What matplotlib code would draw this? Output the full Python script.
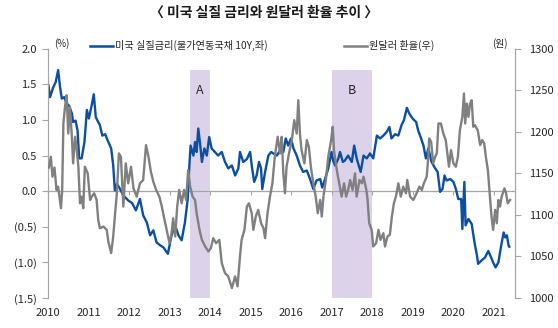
import matplotlib
matplotlib.use("Agg")
import numpy as np
from matplotlib import pyplot as plt
from matplotlib.lines import Line2D
from matplotlib.ticker import FuncFormatter

plt.rcParams["font.family"] = ["Noto Sans CJK KR", "DejaVu Sans"]

# US real rate (TIPS 10Y, %) -- decimal year / value
rate_x = [2010.01, 2010.05, 2010.13, 2010.19, 2010.25, 2010.30, 2010.34, 2010.40, 2010.46, 2010.52,
          2010.59, 2010.62, 2010.68, 2010.73, 2010.77, 2010.83, 2010.90, 2010.96, 2011.01, 2011.08,
          2011.13, 2011.18, 2011.24, 2011.28, 2011.34, 2011.41, 2011.49, 2011.56, 2011.61, 2011.65,
          2011.70, 2011.75, 2011.86, 2011.98, 2012.08, 2012.17, 2012.27, 2012.35, 2012.44, 2012.52,
          2012.60, 2012.68, 2012.77, 2012.85, 2012.96, 2013.05, 2013.14, 2013.22, 2013.30, 2013.38,
          2013.45, 2013.49, 2013.52, 2013.59, 2013.63, 2013.67, 2013.71, 2013.75, 2013.80, 2013.86,
          2013.92, 2013.98, 2014.04, 2014.12, 2014.20, 2014.29, 2014.37, 2014.45, 2014.54, 2014.62,
          2014.70, 2014.74, 2014.82, 2014.91, 2014.99, 2015.03, 2015.09, 2015.15, 2015.21, 2015.26,
          2015.29, 2015.36, 2015.44, 2015.51, 2015.56, 2015.65, 2015.73, 2015.81, 2015.87, 2015.93,
          2016.00, 2016.06, 2016.14, 2016.22, 2016.30, 2016.39, 2016.47, 2016.55, 2016.63, 2016.72,
          2016.77, 2016.84, 2016.92, 2017.00, 2017.04, 2017.09, 2017.17, 2017.21, 2017.28, 2017.33,
          2017.41, 2017.50, 2017.56, 2017.62, 2017.72, 2017.79, 2017.87, 2017.95, 2018.03, 2018.12,
          2018.20, 2018.28, 2018.36, 2018.43, 2018.48, 2018.57, 2018.65, 2018.73, 2018.79, 2018.86,
          2018.92, 2019.00, 2019.09, 2019.14, 2019.20, 2019.27, 2019.33, 2019.39, 2019.47, 2019.56,
          2019.62, 2019.68, 2019.74, 2019.79, 2019.84, 2019.93, 2020.01, 2020.07, 2020.13, 2020.20,
          2020.23, 2020.28, 2020.31, 2020.38, 2020.46, 2020.53, 2020.59, 2020.62, 2020.71, 2020.79,
          2020.87, 2020.94, 2020.99, 2021.05, 2021.12, 2021.19, 2021.25, 2021.29, 2021.33, 2021.37,
          2021.39]
rate_y = [1.49, 1.32, 1.46, 1.53, 1.70, 1.45, 1.30, 1.32, 1.23, 1.20,
          1.09, 0.97, 0.99, 0.85, 0.46, 0.46, 0.69, 1.14, 1.02, 1.21,
          1.36, 1.04, 0.97, 0.93, 0.78, 0.80, 0.69, 0.60, 0.36, 0.01,
          0.10, 0.06, -0.06, -0.13, -0.17, -0.27, -0.11, -0.34, -0.44, -0.62,
          -0.55, -0.72, -0.76, -0.79, -0.88, -0.62, -0.48, -0.62, -0.69, -0.44,
          -0.11, 0.36, 0.64, 0.50, 0.69, 0.55, 0.88, 0.69, 0.41, 0.60,
          0.50, 0.76, 0.60, 0.55, 0.50, 0.55, 0.41, 0.32, 0.36, 0.22,
          0.32, 0.55, 0.41, 0.45, 0.55, 0.36, 0.13, 0.22, 0.41, 0.32,
          0.03, 0.27, 0.50, 0.55, 0.53, 0.50, 0.57, 0.55, 0.74, 0.64,
          0.74, 0.60, 0.50, 0.36, 0.27, 0.29, 0.17, 0.03, 0.15, 0.17,
          0.05, 0.17, 0.32, 0.55, 0.43, 0.36, 0.46, 0.55, 0.41, 0.43,
          0.50, 0.41, 0.64, 0.46, 0.27, 0.50, 0.46, 0.53, 0.46, 0.78,
          0.74, 0.78, 0.83, 0.90, 0.74, 0.80, 0.78, 0.93, 1.00, 1.17,
          1.09, 1.02, 0.97, 0.85, 0.76, 0.64, 0.46, 0.60, 0.41, 0.32,
          0.27, -0.01, 0.03, 0.22, 0.15, 0.17, 0.13, 0.03, -0.11, -0.11,
          -0.53, 0.13, -0.48, -0.39, -0.46, -0.72, -0.90, -1.02, -0.97, -0.93,
          -0.84, -0.93, -1.00, -1.07, -1.00, -0.76, -0.58, -0.65, -0.62, -0.76,
          -0.78]

# KRW/USD (won) -- decimal year / value
fx_x = [2010.02, 2010.07, 2010.11, 2010.16, 2010.21, 2010.25, 2010.32, 2010.35, 2010.38, 2010.42,
        2010.46, 2010.50, 2010.54, 2010.59, 2010.62, 2010.67, 2010.71, 2010.75, 2010.79, 2010.83,
        2010.87, 2010.91, 2010.98, 2011.04, 2011.08, 2011.14, 2011.20, 2011.24, 2011.28, 2011.37,
        2011.45, 2011.49, 2011.56, 2011.61, 2011.65, 2011.70, 2011.75, 2011.80, 2011.86, 2011.92,
        2011.98, 2012.05, 2012.11, 2012.19, 2012.27, 2012.35, 2012.42, 2012.48, 2012.54, 2012.60,
        2012.67, 2012.75, 2012.81, 2012.86, 2012.93, 2013.00, 2013.05, 2013.09, 2013.14, 2013.19,
        2013.24, 2013.30, 2013.36, 2013.41, 2013.46, 2013.51, 2013.57, 2013.63, 2013.67, 2013.74,
        2013.80, 2013.88, 2013.96, 2014.02, 2014.08, 2014.15, 2014.23, 2014.29, 2014.37, 2014.45,
        2014.54, 2014.62, 2014.68, 2014.74, 2014.78, 2014.85, 2014.91, 2014.96, 2015.03, 2015.07,
        2015.13, 2015.19, 2015.26, 2015.32, 2015.36, 2015.42, 2015.48, 2015.54, 2015.60, 2015.67,
        2015.73, 2015.77, 2015.81, 2015.85, 2015.89, 2015.95, 2016.02, 2016.08, 2016.14, 2016.18,
        2016.22, 2016.26, 2016.33, 2016.39, 2016.44, 2016.49, 2016.55, 2016.61, 2016.66, 2016.72,
        2016.76, 2016.80, 2016.86, 2016.92, 2016.99, 2017.03, 2017.06, 2017.13, 2017.19, 2017.25,
        2017.31, 2017.36, 2017.41, 2017.46, 2017.52, 2017.58, 2017.62, 2017.69, 2017.75, 2017.79,
        2017.86, 2017.89, 2017.93, 2017.99, 2018.03, 2018.10, 2018.16, 2018.21, 2018.28, 2018.32,
        2018.38, 2018.44, 2018.49, 2018.54, 2018.59, 2018.65, 2018.71, 2018.77, 2018.84, 2018.87,
        2018.94, 2019.02, 2019.10, 2019.17, 2019.23, 2019.28, 2019.35, 2019.39, 2019.41, 2019.46,
        2019.51, 2019.56, 2019.60, 2019.64, 2019.70, 2019.76, 2019.82, 2019.87, 2019.90, 2019.95,
        2020.01, 2020.07, 2020.12, 2020.17, 2020.23, 2020.27, 2020.30, 2020.34, 2020.38, 2020.42,
        2020.46, 2020.50, 2020.54, 2020.61, 2020.67, 2020.72, 2020.77, 2020.81, 2020.86, 2020.91,
        2020.95, 2020.99, 2021.04, 2021.08, 2021.12, 2021.16, 2021.20, 2021.27, 2021.31, 2021.35,
        2021.41]
fx_y = [1157, 1170, 1146, 1157, 1130, 1134, 1108, 1130, 1210, 1230,
        1244, 1198, 1230, 1194, 1162, 1194, 1178, 1158, 1114, 1122,
        1108, 1158, 1150, 1118, 1122, 1126, 1118, 1094, 1084, 1086,
        1082, 1068, 1054, 1074, 1098, 1126, 1174, 1170, 1110, 1162,
        1138, 1158, 1132, 1122, 1138, 1142, 1184, 1170, 1152, 1140,
        1130, 1122, 1110, 1098, 1082, 1066, 1078, 1096, 1074, 1110,
        1130, 1114, 1130, 1118, 1154, 1134, 1122, 1118, 1102, 1082,
        1070, 1062, 1056, 1060, 1072, 1066, 1070, 1042, 1030, 1026,
        1012, 1026, 1014, 1050, 1070, 1082, 1110, 1114, 1102, 1082,
        1098, 1106, 1090, 1084, 1072, 1102, 1122, 1138, 1170, 1194,
        1174, 1194, 1150, 1126, 1158, 1174, 1190, 1214, 1198, 1238,
        1198, 1178, 1162, 1190, 1182, 1158, 1138, 1122, 1102, 1118,
        1098, 1122, 1142, 1170, 1190, 1206, 1178, 1154, 1138, 1122,
        1138, 1122, 1130, 1142, 1130, 1150, 1122, 1142, 1138, 1146,
        1130, 1118, 1090, 1082, 1062, 1066, 1082, 1070, 1078, 1062,
        1074, 1076, 1098, 1114, 1122, 1138, 1122, 1134, 1126, 1142,
        1122, 1118, 1126, 1134, 1130, 1138, 1146, 1170, 1192, 1188,
        1162, 1170, 1174, 1210, 1210, 1198, 1190, 1170, 1158, 1178,
        1162, 1158, 1170, 1202, 1218, 1246, 1210, 1234, 1218, 1234,
        1238, 1206, 1208, 1202, 1184, 1190, 1186, 1170, 1154, 1122,
        1098, 1082, 1106, 1090, 1118, 1110, 1122, 1132, 1126, 1114,
        1118]

years = list(range(2010, 2022))
spans = [(2013.5, 2014.0, "A"), (2017.0, 2018.0, "B")]

blue = "#0B4EA2"
gray = "#808080"
axis_gray = "#A6A6A6"
text_c = "#262626"

fig = plt.figure(figsize=(5.58, 3.28), dpi=100)
ax = fig.add_axes([48 / 558, 1 - 298 / 328, 467 / 558, 249.3 / 328])
ax2 = ax.twinx()

for x0, x1, lab in spans:
    ax.axvspan(x0, x1, ymin=0, ymax=(1.7 + 1.5) / 3.5, color="#DCD3EA", lw=0, zorder=0)
    ax.text((x0 + x1) / 2, 1.42, lab, ha="center", va="center", fontsize=9, color=text_c)

ax.plot(rate_x, rate_y, color=blue, lw=1.7, zorder=3)
ax2.plot(fx_x, fx_y, color=gray, lw=1.7, zorder=3)

ax.set_xlim(2010, 2021.53)
ax.set_ylim(-1.5, 2.0)
ax2.set_ylim(1000, 1300)

ax.set_yticks(np.arange(-1.5, 2.01, 0.5))
ax.yaxis.set_major_formatter(FuncFormatter(lambda v, p: f"({abs(v):.1f})" if v < -1e-9 else f"{v:.1f}"))
ax2.set_yticks(np.arange(1000, 1301, 50))

ax.set_xticks(years)
ax.set_xticklabels([str(y) for y in years])
ax.tick_params(axis="x", length=0, pad=7, labelsize=8, colors=text_c)
ax.tick_params(axis="y", length=4, direction="out", color=axis_gray, labelsize=8, labelcolor=text_c, pad=4)
ax2.tick_params(axis="y", length=4, direction="out", color=axis_gray, labelsize=8, labelcolor=text_c, pad=6)

for a in (ax, ax2):
    a.spines["top"].set_visible(False)
    a.spines["bottom"].set_visible(False)
    a.spines["left"].set_color(axis_gray)
    a.spines["right"].set_color(axis_gray)

# zero line with year ticks
zx = ax.secondary_xaxis(1.5 / 3.5)
zx.set_xticks(years)
zx.tick_params(axis="x", length=3, direction="out", color=axis_gray, labelbottom=False, labeltop=False)
zx.spines["bottom"].set_color(axis_gray)
zx.spines["bottom"].set_linewidth(0.9)

ax.text((62 - 48) / 467, 1.02, "(%)", transform=ax.transAxes, ha="center", va="center",
        fontsize=7, color=text_c)
ax.text((500 - 48) / 467, 1.022, "(원)", transform=ax.transAxes, ha="center", va="center",
        fontsize=7, color=text_c)

handles = [Line2D([], [], color=blue, lw=1.8), Line2D([], [], color=gray, lw=1.8)]
ax2.legend(handles, ["미국 실질금리(물가연동국채 10Y,좌)", "원달러 환율(우)"], ncol=2, frameon=False,
           loc="center", bbox_to_anchor=((262 - 48) / 467, 1.012), fontsize=7.3, handlelength=2.3,
           handletextpad=0.2, columnspacing=7.5, labelcolor=text_c)

fig.text(264 / 558, 1 - 13 / 328, "〈 미국 실질 금리와 원달러 환율 추이 〉", ha="center", va="center",
         fontsize=10, fontweight="bold", color="#1a1a1a")

fig.savefig("out.png", dpi=100)
